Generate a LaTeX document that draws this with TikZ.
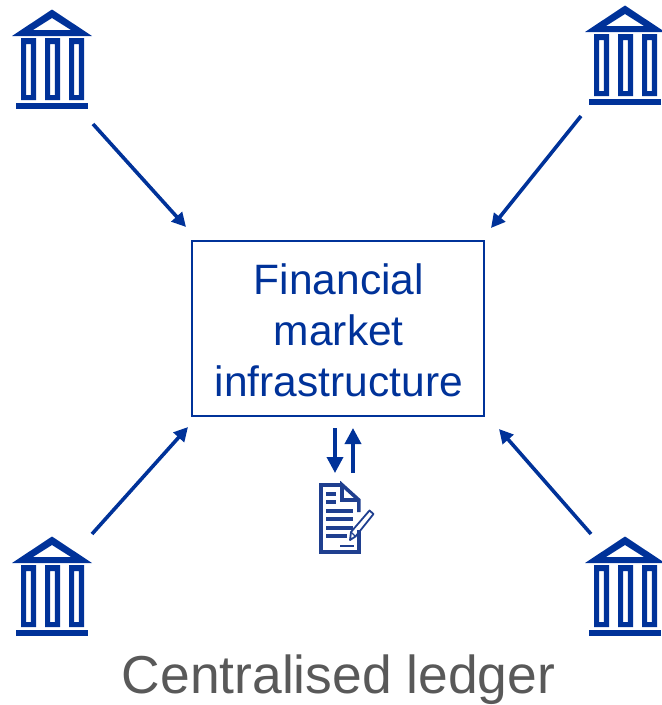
\documentclass[tikz,border=0pt]{standalone}
\usepackage{fontspec}
\setmainfont{Liberation Sans}
\usetikzlibrary{arrows.meta}
\definecolor{ecb}{HTML}{003299}
\definecolor{doc}{HTML}{1F3F8F}
\definecolor{cap}{HTML}{595959}
\tikzset{
  x=1pt,y=-1pt,
  conn/.style={draw=ecb,line width=3.6pt,-{Triangle[length=14pt,width=14pt]}},
  updown/.style={draw=ecb,line width=3.6pt,-{Triangle[length=16pt,width=16pt]}},
  bank/.pic={
    \fill[ecb,even odd rule] (52,9.5)--(92,36)--(12,36)--cycle (52,18)--(33,30)--(71,30)--cycle;
    \foreach \c in {21,45,69}{
      \fill[ecb,even odd rule] (\c,38) rectangle ++(15,62) (\c+5.2,44) rectangle ++(4.6,51);
    }
    \fill[ecb] (16,102.5) rectangle (88,108.5);
  }
}
\begin{document}
\begin{tikzpicture}
\useasboundingbox (0,0) rectangle (662,705);
\pic at (0,0) {bank};
\pic at (573,-4) {bank};
\pic at (0,527) {bank};
\pic at (573,527) {bank};
\node[draw=ecb,line width=2pt,minimum width=291.4pt,minimum height=174.4pt,inner sep=0pt] (fin) at (338,328.5) {};
\node[text=ecb,font=\fontsize{42.5}{51}\selectfont,align=center,inner sep=0pt] (fintext) at (338.8,330.5) {Financial\\market\\infrastructure};
\coordinate (a1) at (93,124); \coordinate (b1) at (186,227);
\coordinate (a2) at (581,116); \coordinate (b2) at (491,228);
\coordinate (a3) at (92,534); \coordinate (b3) at (188,427);
\coordinate (a4) at (591,534); \coordinate (b4) at (499,429);
\draw[conn] (a1)--(b1);
\draw[conn] (a2)--(b2);
\draw[conn] (a3)--(b3);
\draw[conn] (a4)--(b4);
\coordinate (d1) at (335,428); \coordinate (d2) at (335,473);
\coordinate (u1) at (353,473); \coordinate (u2) at (353,428);
\draw[updown] (d1)--(d2);
\draw[updown] (u1)--(u2);
% document icon
\draw[doc,line width=3.6pt,line join=miter] (342,484.8)--(320.8,484.8)--(320.8,552.2)--(358.8,552.2)--(358.8,530);
\draw[doc,line width=3.6pt] (358.8,512)--(358.8,500)--(342,484.8)--(342,500)--(358.8,500);
\foreach \y/\xa/\xb in {494/326/336,502/326/336,510.5/326/353,519/326/353,527.5/326/353,536/326/347}{
  \fill[doc] (\xa,\y-2) rectangle (\xb,\y+2);
}
\fill[doc] (339.5,544.5) rectangle (354,546.5);
\draw[doc,line width=1.8pt,line join=round] (350,540)--(351,532)--(369.5,510.5)--(373.5,514)--(355.5,536.5)--cycle;
\draw[doc,line width=1.2pt] (351,532)--(355.5,536.5);
\node[text=cap,font=\fontsize{53.4}{60}\selectfont,inner sep=0pt] (caption) at (338.5,680) {Centralised ledger};
\end{tikzpicture}
\end{document}
